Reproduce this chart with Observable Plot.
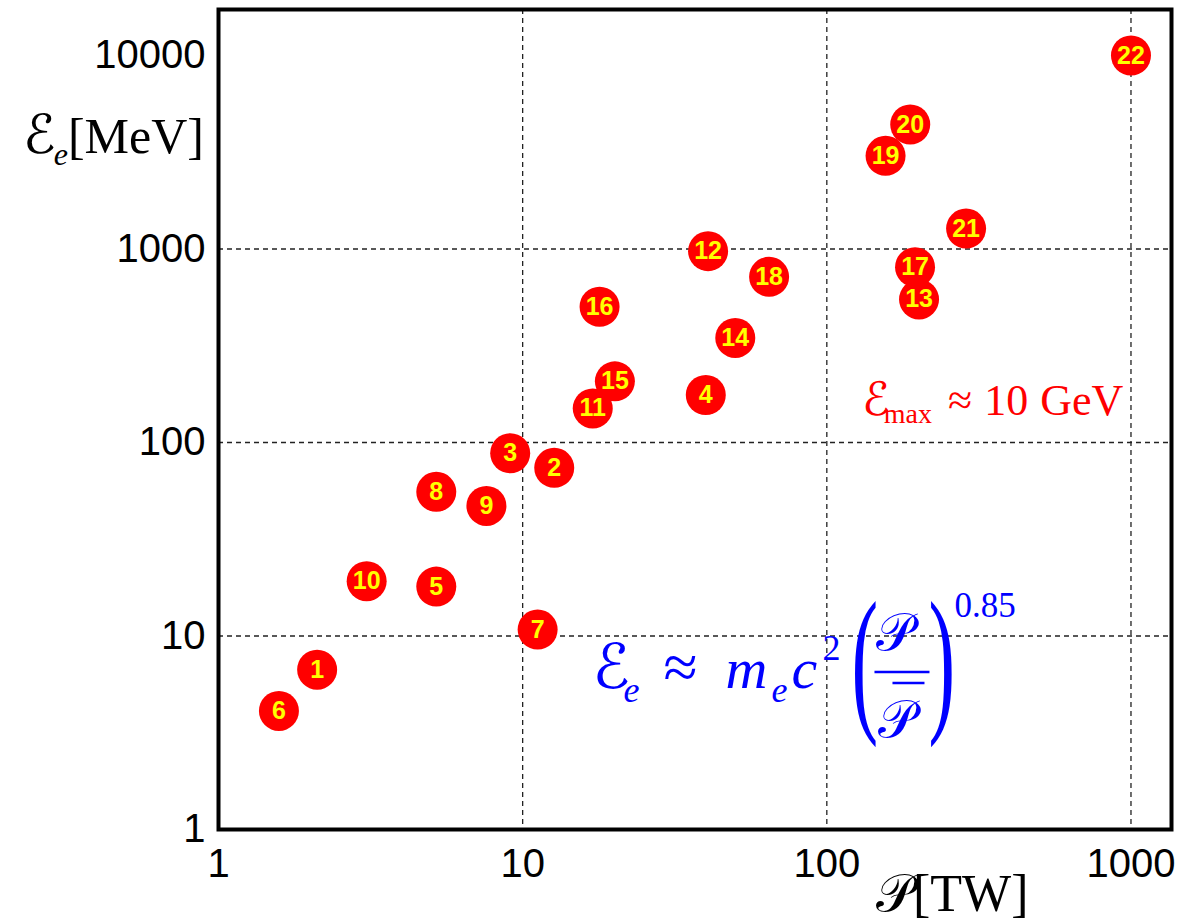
<!DOCTYPE html>
<html>
<head>
<meta charset="utf-8">
<script src="https://cdn.jsdelivr.net/npm/d3@7"></script>
<script src="https://cdn.jsdelivr.net/npm/@observablehq/plot@0.6"></script>
<style>
  body { margin: 0; background: #fff; }
  #chart svg { display: block; }
</style>
</head>
<body>
<div id="chart"></div>
<script>
// Experiment labels and measured values: laser power (TW) and electron energy (MeV)
const ids    = [1, 2, 3, 4, 5, 6, 7, 8, 9, 10, 11, 12, 13, 14, 15, 16, 17, 18, 19, 20, 21, 22];
const power  = [2.11, 12.7, 9.1, 40, 5.2, 1.58, 11.2, 5.2, 7.6, 3.07, 17, 40.7, 201, 50, 20.1, 17.9, 195, 64.6, 156, 188, 287, 1000];
const energy = [6.7, 74, 88, 176, 18, 4.1, 10.8, 55.6, 47, 19.2, 150, 975, 549, 347, 207, 503, 806, 718, 3030, 4400, 1275, 10000];

// Axis ticks and grid lines
const xTicks = [1, 10, 100, 1000];
const yTicks = [1, 10, 100, 1000, 10000];
const xGrid  = [10, 100, 1000];
const yGrid  = [10, 100, 1000];

// Anchors of the two annotations, in data coordinates (TW, MeV)
const scalingAnchor = {x: 16.9, y: 5.36};
const maxAnchor     = {x: 131, y: 138};

const points = ids.map((id, i) => ({id, power: power[i], energy: energy[i]}));

const sans   = "Liberation Sans, Arial, Helvetica, sans-serif";
const serif  = "Liberation Serif, DejaVu Serif, Times New Roman, serif";
const script = "DejaVu Serif, DejaVu Sans, Liberation Serif, serif";

const dash = {stroke: "#222", strokeWidth: 1.3, strokeDasharray: "5,4"};

const chart = Plot.plot({
  width: 1183,
  height: 921,
  marginLeft: 218,
  marginRight: 12,
  marginTop: 9,
  marginBottom: 92,
  style: {fontFamily: sans, fontSize: "40px", background: "#fff", color: "#000"},
  x: {type: "log", domain: [1, 1359]},
  y: {type: "log", domain: [1, 17290]},
  marks: [
    Plot.ruleX(xGrid, dash),
    Plot.ruleY(yGrid, dash),
    Plot.frame({stroke: "#000", strokeWidth: 4}),
    Plot.axisX(xTicks, {tickSize: 0, tickPadding: 19, fontSize: 40, tickFormat: d => String(d), label: null}),
    Plot.axisY(yTicks, {tickSize: 0, tickPadding: 13, fontSize: 40, tickFormat: d => String(d), label: null}),
    Plot.dot(points, {x: "power", y: "energy", r: 20, fill: "#ff0000", stroke: "none"}),
    Plot.text(points, {x: "power", y: "energy", text: "id", fill: "#ffff00", fontSize: 25, fontWeight: "bold", fontFamily: sans})
  ]
});

document.getElementById("chart").appendChild(chart);

const sx = chart.scale("x"), sy = chart.scale("y");
const svg = d3.select(chart);
const notes = svg.append("g").attr("text-anchor", "start");

// Axis titles
const yTitle = notes.append("text")
  .attr("x", 218 - 14).attr("y", 153)
  .attr("text-anchor", "end")
  .attr("fill", "#000");
yTitle.append("tspan").attr("font-family", script).attr("font-size", 54).text("ℰ");
yTitle.append("tspan").attr("font-family", serif).attr("font-style", "italic").attr("font-size", 32).attr("dx", -2).attr("dy", 12).text("e");
yTitle.append("tspan").attr("font-family", serif).attr("font-size", 50).attr("dy", -12).text("[MeV]");

const xTitle = notes.append("text")
  .attr("x", 876).attr("y", 911)
  .attr("fill", "#000");
xTitle.append("tspan").attr("font-family", script).attr("font-size", 52).text("𝒫");
xTitle.append("tspan").attr("font-family", serif).attr("font-size", 52).text("[TW]");

// Red annotation: maximum energy
{
  const x0 = sx.apply(maxAnchor.x), y0 = sy.apply(maxAnchor.y);
  const t = notes.append("text").attr("x", x0).attr("y", y0).attr("fill", "#ff0000").attr("font-family", serif);
  t.append("tspan").attr("font-family", script).attr("font-size", 46).text("ℰ");
  t.append("tspan").attr("font-size", 28).attr("dx", -6).attr("dy", 8).text("max");
  t.append("tspan").attr("font-size", 44).attr("dy", -8).attr("dx", 16).text("≈");
  t.append("tspan").attr("font-size", 44).attr("dx", 12).text("10");
  t.append("tspan").attr("font-size", 44).attr("dx", 12).text("GeV");
}

// Blue annotation: energy scaling law
{
  const ax = sx.apply(scalingAnchor.x), ay = sy.apply(scalingAnchor.y);
  const g = notes.append("g").attr("fill", "#0000ff").attr("font-family", serif);
  const put = (dx, dy, str, size, fam, style) => {
    const t = g.append("text").attr("x", ax + dx).attr("y", ay + dy).attr("font-size", size).text(str);
    if (fam) t.attr("font-family", fam);
    if (style) t.attr("font-style", style);
    return t;
  };
  put(1, 0, "ℰ", 62, script);
  put(32, 14, "e", 36, null, "italic");
  put(72, 0, "≈", 62);
  put(134, 0, "m", 58, null, "italic");
  put(180, 14, "e", 36, null, "italic");
  put(200, 0, "c", 58, null, "italic");
  put(231, -28, "2", 36);
  // Stretched delimiters
  const paren = (dx, ch) => g.append("text")
    .attr("transform", `translate(${ax + dx},${ay + 25}) scale(1,2)`)
    .attr("font-size", 80).text(ch);
  paren(260, "(");
  paren(337, ")");
  put(285, -38, "𝒫", 52, script);
  g.append("line").attr("x1", ax + 283).attr("x2", ax + 338).attr("y1", ay - 16).attr("y2", ay - 16)
    .attr("stroke", "#0000ff").attr("stroke-width", 2.5);
  put(287, 49, "𝒫", 52, script);
  g.append("line").attr("x1", ax + 301).attr("x2", ax + 333).attr("y1", ay - 5).attr("y2", ay - 5)
    .attr("stroke", "#0000ff").attr("stroke-width", 2.5);
  put(363, -71, "0.85", 35);
}
</script>
</body>
</html>
